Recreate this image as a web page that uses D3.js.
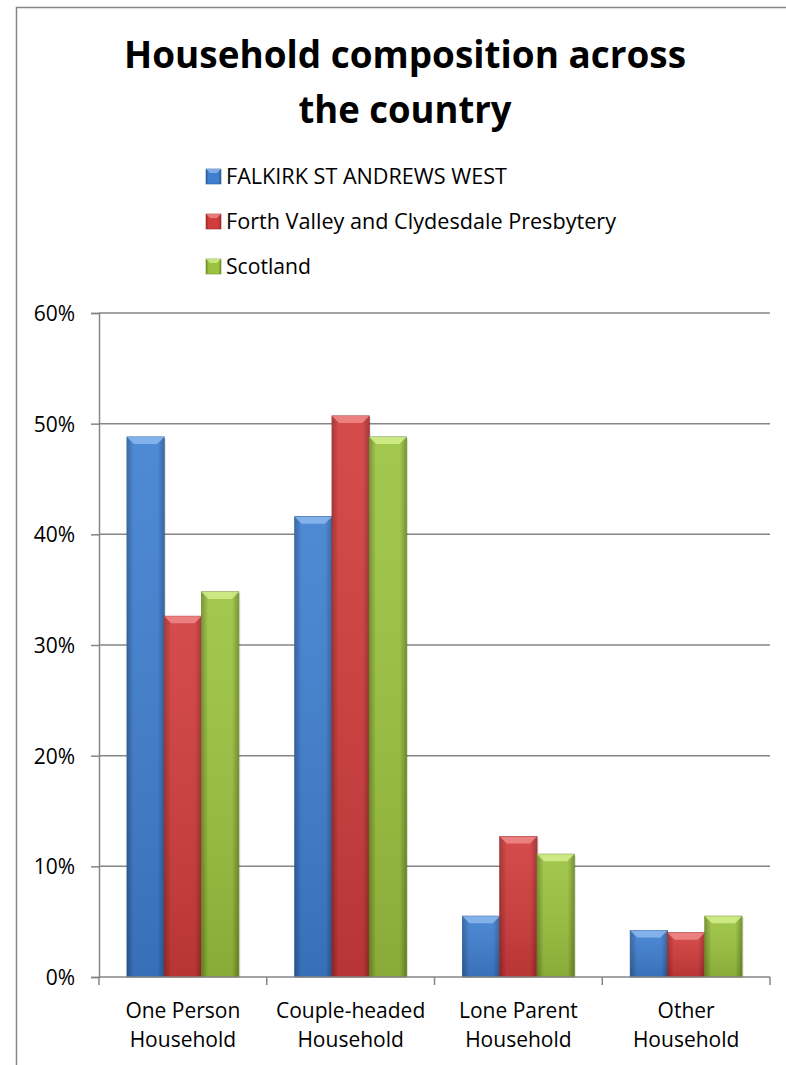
<!DOCTYPE html>
<html lang="en">
<head>
    <meta charset="UTF-8">
    <script src="https://d3js.org/d3.v7.min.js"></script>
    <title>Household composition across the country</title>
    <style>
        html, body {
            margin: 0;
            padding: 0;
            background: white;
        }
        text {
            font-family: "Open Sans", "Noto Sans", sans-serif;
            fill: #000;
        }
        .title {
            font-weight: 700;
            font-size: 38px;
        }
        .legend text {
            font-size: 22px;
        }
        .tick text {
            font-size: 21px;
        }
    </style>
</head>
<body>
    <script>
        // chart data
        const categories = ["One Person Household", "Couple-headed Household", "Lone Parent Household", "Other Household"];
        const categoryLines = [["One Person", "Household"], ["Couple-headed", "Household"], ["Lone Parent", "Household"], ["Other", "Household"]];
        const seriesNames = ["FALKIRK ST ANDREWS WEST", "Forth Valley and Clydesdale Presbytery", "Scotland"];
        const falkirk = [0.488, 0.416, 0.055, 0.042];
        const forthValley = [0.326, 0.507, 0.127, 0.040];
        const scotland = [0.348, 0.488, 0.111, 0.055];
        const yTicks = [0, 0.1, 0.2, 0.3, 0.4, 0.5, 0.6];

        const seriesValues = [falkirk, forthValley, scotland];

        const width = 786;
        const height = 1065;

        const svg = d3.select('body')
          .append('svg')
          .attr('width', width)
          .attr('height', height);

        // colours: [dark edge, body, light top]
        const palette = [
          { dark: "#2c5d9c", body: "#3f7fd0", light: "#8db8ee" },
          { dark: "#9e2a2a", body: "#d13c3c", light: "#f08a8a" },
          { dark: "#6f8d26", body: "#9bc33f", light: "#d3ef8e" }
        ];

        const defs = svg.append('defs');
        palette.forEach((c, i) => {
          const g = defs.append('linearGradient')
            .attr('id', 'grad' + i)
            .attr('x1', '0%').attr('x2', '100%')
            .attr('y1', '0%').attr('y2', '0%');
          g.append('stop').attr('offset', '0%').attr('stop-color', c.dark);
          g.append('stop').attr('offset', '18%').attr('stop-color', c.body);
          g.append('stop').attr('offset', '82%').attr('stop-color', c.body);
          g.append('stop').attr('offset', '100%').attr('stop-color', c.dark);

          const gv = defs.append('linearGradient')
            .attr('id', 'shade' + i)
            .attr('x1', '0%').attr('x2', '0%')
            .attr('y1', '0%').attr('y2', '100%');
          gv.append('stop').attr('offset', '0%').attr('stop-color', '#fff').attr('stop-opacity', 0.08);
          gv.append('stop').attr('offset', '100%').attr('stop-color', '#000').attr('stop-opacity', 0.12);
        });

        // outer chart border (runs off the right and bottom edges)
        svg.append('path')
          .attr('d', `M16.5,${height} L16.5,7.5 L${width},7.5`)
          .attr('fill', 'none')
          .attr('stroke', '#868686')
          .attr('stroke-width', 1.5);

        // title
        const title = svg.append('g');
        title.append('text')
          .attr('class', 'title')
          .attr('x', 405)
          .attr('y', 68)
          .attr('text-anchor', 'middle')
          .attr('textLength', 562)
          .attr('lengthAdjust', 'spacingAndGlyphs')
          .text("Household composition across");
        title.append('text')
          .attr('class', 'title')
          .attr('x', 405)
          .attr('y', 123)
          .attr('text-anchor', 'middle')
          .attr('textLength', 213)
          .attr('lengthAdjust', 'spacingAndGlyphs')
          .text("the country");

        // legend
        const legend = svg.append('g')
          .attr('class', 'legend')
          .attr('transform', 'translate(206, 169)');

        const legendWidths = [281, 390, 85];
        seriesNames.forEach((name, i) => {
          const row = legend.append('g').attr('transform', `translate(0, ${i * 45})`);
          row.append('rect')
            .attr('width', 15).attr('height', 15)
            .attr('fill', `url(#grad${i})`)
            .attr('stroke', palette[i].dark)
            .attr('stroke-width', 0.6);
          row.append('path')
            .attr('d', 'M0,0 L15,0 L11,4 L4,4 Z')
            .attr('fill', palette[i].light)
            .attr('opacity', 0.8);
          row.append('text')
            .attr('x', 20)
            .attr('y', 15)
            .attr('textLength', legendWidths[i])
            .attr('lengthAdjust', 'spacingAndGlyphs')
            .text(name);
        });

        // plot area
        const margin = { top: 313, right: 16, bottom: 88, left: 99 };

        const x = d3.scaleBand()
          .domain(categories)
          .range([margin.left, width - margin.right])
          .paddingInner(0)
          .paddingOuter(0);

        const x1 = d3.scaleBand()
          .domain(d3.range(seriesNames.length))
          .range([0, x.bandwidth()])
          .paddingOuter(0.75)
          .paddingInner(0);

        const y = d3.scaleLinear()
          .domain([0, 0.6])
          .range([height - margin.bottom, margin.top]);

        // gridlines
        svg.append('g')
          .selectAll('line')
          .data(yTicks.slice(1))
          .join('line')
          .attr('x1', margin.left)
          .attr('x2', width - margin.right)
          .attr('y1', d => y(d))
          .attr('y2', d => y(d))
          .attr('stroke', '#868686')
          .attr('stroke-width', 1.5);

        // bars
        const bars = [];
        categories.forEach((cat, ci) => {
          seriesValues.forEach((vals, si) => {
            bars.push({ cat: cat, s: si, v: vals[ci] });
          });
        });

        const barG = svg.append('g');
        const bevel = 7;
        bars.forEach(d => {
          const bx = x(d.cat) + x1(d.s);
          const bw = x1.bandwidth();
          const by = y(d.v);
          const bh = y(0) - by;
          const c = palette[d.s];
          const g = barG.append('g');
          // soft shadow
          g.append('rect')
            .attr('x', bx + 1.5).attr('y', by + 1.5)
            .attr('width', bw).attr('height', bh - 1.5)
            .attr('fill', '#000').attr('opacity', 0.12);
          g.append('rect')
            .attr('x', bx).attr('y', by)
            .attr('width', bw).attr('height', bh)
            .attr('fill', `url(#grad${d.s})`)
            .attr('stroke', c.dark)
            .attr('stroke-width', 0.8);
          g.append('rect')
            .attr('x', bx).attr('y', by)
            .attr('width', bw).attr('height', bh)
            .attr('fill', `url(#shade${d.s})`);
          g.append('path')
            .attr('d', `M${bx},${by} L${bx + bw},${by} L${bx + bw - bevel},${by + bevel} L${bx + bevel},${by + bevel} Z`)
            .attr('fill', c.light)
            .attr('opacity', 0.85);
        });

        // y axis
        const yAxis = svg.append('g')
          .attr('transform', `translate(${margin.left},0)`)
          .call(d3.axisLeft(y)
            .tickValues(yTicks)
            .tickFormat(d3.format('.0%'))
            .tickSize(8)
            .tickPadding(16));
        yAxis.select('.domain').attr('stroke', '#868686').attr('stroke-width', 1.5);
        yAxis.selectAll('.tick line').attr('stroke', '#868686').attr('stroke-width', 1.5);
        yAxis.selectAll('.tick text').attr('dy', '0.35em');

        // x axis
        const xAxis = svg.append('g')
          .attr('transform', `translate(0,${y(0)})`);
        xAxis.append('line')
          .attr('x1', margin.left).attr('x2', width - margin.right)
          .attr('stroke', '#868686').attr('stroke-width', 1.5);
        const xEdges = categories.map(c => x(c)).concat([x(categories[categories.length - 1]) + x.bandwidth()]);
        xAxis.selectAll('line.xt')
          .data(xEdges)
          .join('line')
          .attr('class', 'xt')
          .attr('x1', d => d).attr('x2', d => d)
          .attr('y1', 0).attr('y2', 8)
          .attr('stroke', '#868686').attr('stroke-width', 1.5);

        categories.forEach((cat, i) => {
          const t = xAxis.append('text')
            .attr('x', x(cat) + x.bandwidth() / 2)
            .attr('y', 41)
            .attr('text-anchor', 'middle')
            .style('font-size', '21px');
          categoryLines[i].forEach((line, li) => {
            t.append('tspan')
              .attr('x', x(cat) + x.bandwidth() / 2)
              .attr('dy', li === 0 ? 0 : 29)
              .text(line);
          });
        });
    </script>
</body>
</html>
